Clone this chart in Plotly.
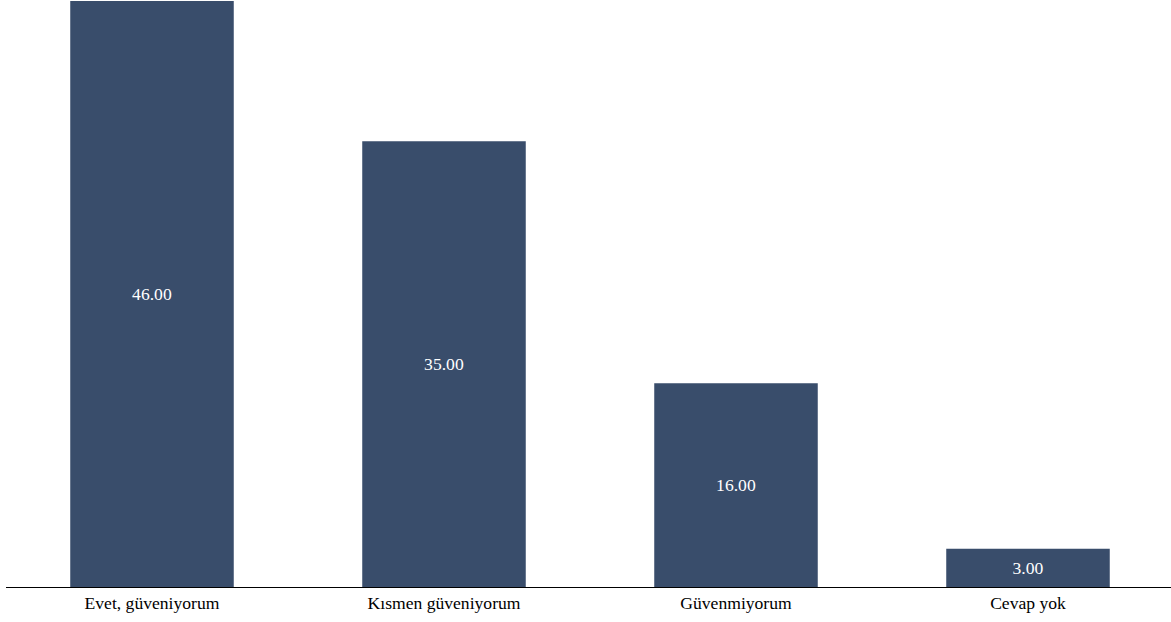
import plotly.graph_objects as go

categories = ["Evet, güveniyorum", "Kısmen güveniyorum", "Güvenmiyorum", "Cevap yok"]
values = [46, 35, 16, 3]

SERIF = "'Liberation Serif', 'Times New Roman', Times, serif"

fig = go.Figure(go.Bar(
    x=categories,
    y=values,
    marker=dict(color="#394d6b", line=dict(width=0)),
    text=[f"{v:.2f}" for v in values],
    textposition="inside",
    insidetextanchor="middle",
    textfont=dict(family=SERIF, size=17.6, color="#ffffff"),
    textangle=0,
    hoverinfo="skip",
))

fig.update_layout(
    width=1174, height=622,
    margin=dict(l=6, r=0, t=1, b=35),
    paper_bgcolor="white", plot_bgcolor="white",
    bargap=0.44,
    showlegend=False,
    font=dict(family=SERIF, size=17.6, color="#000000"),
)
fig.update_xaxes(showline=True, linecolor="#000000", linewidth=1, ticks="", showgrid=False,
                 tickfont=dict(family=SERIF, size=17.6, color="#000000"))
fig.update_yaxes(range=[0, 46], visible=False, showgrid=False, zeroline=False)

fig.write_html(
    "out.html",
    config={"displayModeBar": False},
    post_script="document.body.style.margin='0';document.body.style.overflow='hidden';",
)
